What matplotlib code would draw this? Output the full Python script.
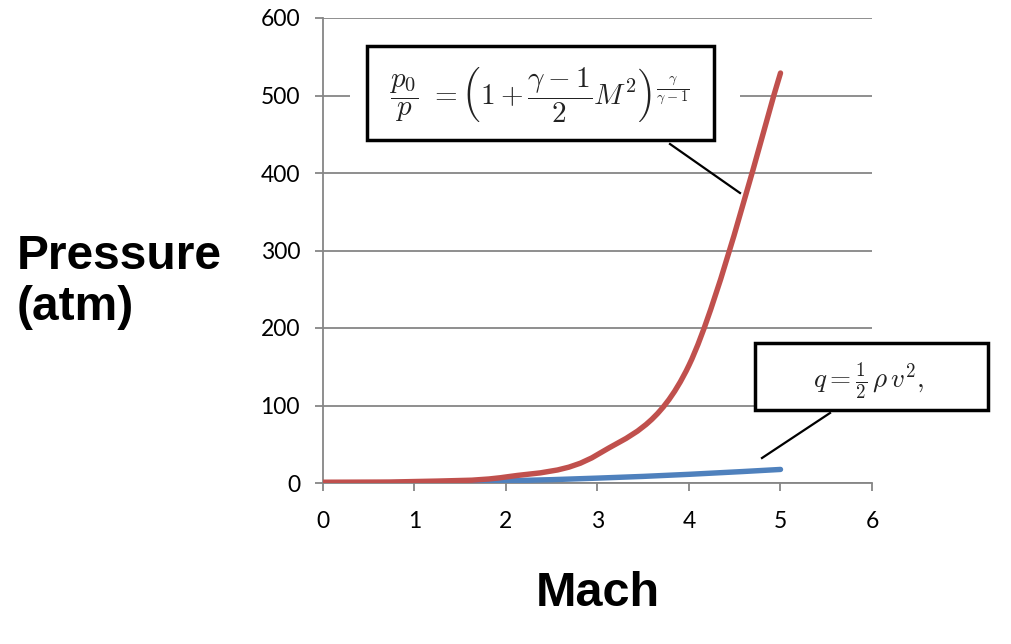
import matplotlib
matplotlib.use("Agg")
import matplotlib.pyplot as plt
from matplotlib.patches import Rectangle, PathPatch
from matplotlib.path import Path

plt.rcParams['mathtext.fontset'] = 'cm'

mach = [0, 1, 2, 3, 4, 5]
stagnation = [1, 1.9, 7.8, 36.7, 152, 529]
dynamic = [0, 0.7, 2.8, 6.3, 11.2, 17.5]
xticks = [0, 1, 2, 3, 4, 5, 6]
yticks = [0, 100, 200, 300, 400, 500, 600]


def smooth_path(xs, ys):
    """Excel-style smoothed line: cubic Bezier through the points."""
    pts = list(zip(xs, ys))
    n = len(pts)
    verts = [pts[0]]
    codes = [Path.MOVETO]
    for i in range(n - 1):
        p0 = pts[i - 1] if i > 0 else pts[i]
        p1 = pts[i]
        p2 = pts[i + 1]
        p3 = pts[i + 2] if i + 2 < n else pts[i + 1]
        c1 = (p1[0] + (p2[0] - p0[0]) / 6, p1[1] + (p2[1] - p0[1]) / 6)
        c2 = (p2[0] - (p3[0] - p1[0]) / 6, p2[1] - (p3[1] - p1[1]) / 6)
        verts += [c1, c2, p2]
        codes += [Path.CURVE4] * 3
    return Path(verts, codes)


fig = plt.figure(figsize=(10.12, 6.44), dpi=100)
ax = fig.add_axes([323/1012, 1-483/644, (872-323)/1012, (483-18)/644])

grid_c = '#868686'
ax.set_xlim(0, 6)
ax.set_ylim(0, 600)
ax.set_xticks(xticks)
ax.set_yticks(yticks)
ax.yaxis.grid(True, color=grid_c, linewidth=1.3)
ax.set_axisbelow(True)
for s in ['top', 'right']:
    ax.spines[s].set_visible(False)
for s in ['left', 'bottom']:
    ax.spines[s].set_color(grid_c)
    ax.spines[s].set_linewidth(1.3)
ax.tick_params(axis='both', colors=grid_c, length=5.5, width=1.3, direction='out')
ax.tick_params(axis='y', labelcolor='black', labelsize=16.5, pad=11)
ax.tick_params(axis='x', labelcolor='black', labelsize=16.5, pad=15)
for lab in ax.get_xticklabels() + ax.get_yticklabels():
    lab.set_family('Lato')

ax.add_patch(PathPatch(smooth_path(mach, dynamic), fill=False, edgecolor='#4F81BD',
                       linewidth=3.9, capstyle='round', joinstyle='round', zorder=3,
                       transform=ax.transData))
ax.add_patch(PathPatch(smooth_path(mach, stagnation), fill=False, edgecolor='#C0504D',
                       linewidth=3.9, capstyle='round', joinstyle='round', zorder=4,
                       transform=ax.transData))

# Axis titles
fig.text(17/1012, 1-282/644, 'Pressure\n(atm)', family='Liberation Sans', fontweight='bold',
         fontsize=34.5, ha='left', va='center', linespacing=1.15)
fig.text(598/1012, 1-594/644, 'Mach', family='Liberation Sans', fontweight='bold',
         fontsize=35, ha='center', va='center')

# Annotation 1
fig.patches.append(Rectangle((350/1012, 1-150/644), (740-350)/1012, (150-38)/644,
                             transform=fig.transFigure, facecolor='white', edgecolor='none', zorder=5))
fig.patches.append(Rectangle((367/1012, 1-140/644), (714-367)/1012, (140-46)/644,
                             transform=fig.transFigure, facecolor='white', edgecolor='black',
                             linewidth=2.5, zorder=6))
fig.text(539/1012, 1-95/644,
         r'$\dfrac{p_0}{p}\ =\left(1+\dfrac{\gamma-1}{2}M^2\right)^{\frac{\gamma}{\gamma-1}}$',
         fontsize=21, ha='center', va='center', color='#222222', zorder=7)
fig.add_artist(plt.Line2D([670/1012, 740/1012], [1-144/644, 1-193/644],
                          transform=fig.transFigure, color='black', linewidth=1.6, zorder=7))

# Annotation 2
fig.patches.append(Rectangle((755/1012, 1-410/644), (988-755)/1012, (410-343)/644,
                             transform=fig.transFigure, facecolor='white', edgecolor='black',
                             linewidth=2.5, zorder=6))
fig.text(869/1012, 1-382/644, r'$q=\frac{1}{2}\,\rho\,v^2,$',
         fontsize=19.5, ha='center', va='center', color='#222222', zorder=7)
fig.add_artist(plt.Line2D([830/1012, 762/1012], [1-413/644, 1-458/644],
                          transform=fig.transFigure, color='black', linewidth=1.6, zorder=7))

fig.savefig('out.png', dpi=100, facecolor='white')
